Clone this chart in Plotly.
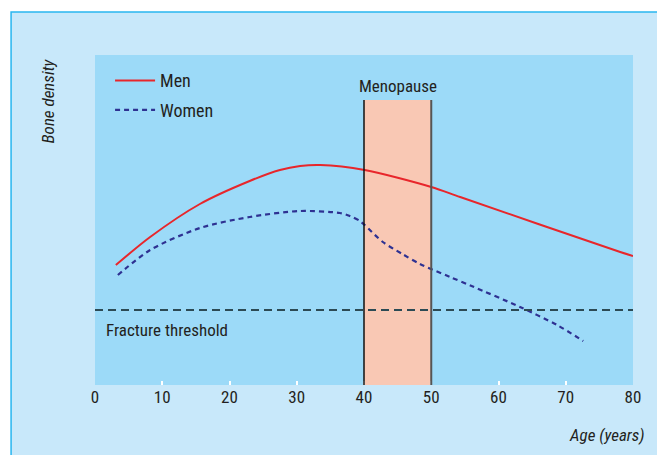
import plotly.graph_objects as go

# ---- data (arbitrary bone-density units) ----
men_age = [3.1, 8.2, 15.6, 23.0, 27.5, 30.5, 33.5, 40.1, 50.0, 54.3, 78.1, 80.0]
men_density = [120, 148, 181, 204, 215, 219, 220, 215, 198, 188, 133, 129]

women_age = [3.4, 8.2, 15.6, 23.0, 30.5, 36.4, 37.9, 39.4, 40.1, 42.8, 45.7, 48.3, 52.8, 56.0, 63.2, 68.7, 72.6]
women_density = [110, 135, 157, 168, 174, 172, 169, 164, 160, 143, 131, 121, 108, 99, 78, 60, 44]

fracture_threshold = 75
menopause_start, menopause_end = 40, 50
menopause_top = 285

x_ticks = [0, 10, 20, 30, 40, 50, 60, 70, 80]

FONT = "Liberation Sans Narrow, Roboto Condensed, Arial Narrow, Liberation Sans, sans-serif"
TXT = "#231f20"

fig = go.Figure()

fig.add_trace(go.Scatter(x=men_age, y=men_density, mode="lines", name="Men", legendgroup="m",
                         line=dict(color="#e8262b", width=2, shape="spline", smoothing=0.8)))
fig.add_trace(go.Scatter(x=women_age, y=women_density, mode="lines", name="Women", legendgroup="w",
                         line=dict(color="#2e3192", width=2.2, shape="spline", smoothing=0.8,
                                   dash="5px,4px")))

fig.add_trace(go.Scatter(x=[0, 80], y=[fracture_threshold, fracture_threshold], mode="lines",
                         showlegend=False, hoverinfo="skip",
                         line=dict(color="#2c4a54", width=2, dash="8px,5px")))

shapes = [
    # outer panel
    dict(type="rect", xref="paper", yref="paper", x0=-0.156, x1=1.2, y0=-0.3, y1=1.130,
         fillcolor="#c8e8fa", line=dict(color="#29b6f0", width=1.5), layer="below"),
    # plot panel
    dict(type="rect", xref="paper", yref="paper", x0=0, x1=1, y0=0, y1=1,
         fillcolor="#9cdaf8", line=dict(width=0), layer="below"),
    # menopause box
    dict(type="rect", xref="x", yref="y", x0=menopause_start, x1=menopause_end, y0=0, y1=menopause_top,
         fillcolor="#f9c8b4", line=dict(width=0), layer="below"),
    dict(type="line", xref="x", yref="y", x0=menopause_start, x1=menopause_start, y0=0, y1=menopause_top,
         line=dict(color="#111111", width=1.5)),
    dict(type="line", xref="x", yref="y", x0=menopause_end, x1=menopause_end, y0=0, y1=menopause_top,
         line=dict(color="#555555", width=2)),
]

annotations = [
    dict(text="Menopause", x=45, y=menopause_top, xref="x", yref="y", showarrow=False,
         yanchor="bottom", yshift=2, font=dict(size=17, color=TXT, family=FONT)),
    dict(text="Fracture threshold", x=1.4, y=fracture_threshold, xref="x", yref="y", showarrow=False,
         xanchor="left", yanchor="top", yshift=-8, font=dict(size=17, color=TXT, family=FONT)),
    dict(text="<i>Bone density</i>", x=-0.087, y=0.86, xref="paper", yref="paper", showarrow=False,
         textangle=-90, xanchor="center", yanchor="middle", font=dict(size=17, color=TXT, family=FONT)),
    dict(text="<i>Age (years)</i>", x=1.026, y=-0.152, xref="paper", yref="paper", showarrow=False,
         xanchor="right", yanchor="middle", font=dict(size=17, color=TXT, family=FONT)),
]

fig.update_layout(
    width=657, height=447,
    margin=dict(l=87, r=32, t=47, b=70),
    paper_bgcolor="white",
    plot_bgcolor="rgba(0,0,0,0)",
    shapes=shapes,
    annotations=annotations,
    font=dict(family=FONT, size=17, color=TXT),
    legend=dict(x=0.028, y=0.978, xanchor="left", yanchor="top", bgcolor="rgba(0,0,0,0)",
                font=dict(size=18, color=TXT, family=FONT), itemwidth=40, tracegroupgap=3),
    xaxis=dict(range=[0, 80], tickvals=x_ticks, ticktext=[str(v) for v in x_ticks],
               ticks="inside", ticklen=4, tickwidth=2, tickcolor="white",
               showgrid=False, zeroline=False, showline=False, fixedrange=True,
               tickfont=dict(size=17, color=TXT, family=FONT)),
    yaxis=dict(range=[0, 330], showticklabels=False, ticks="", showgrid=False,
               zeroline=False, showline=False, fixedrange=True),
)

fig.write_html("out.html")
